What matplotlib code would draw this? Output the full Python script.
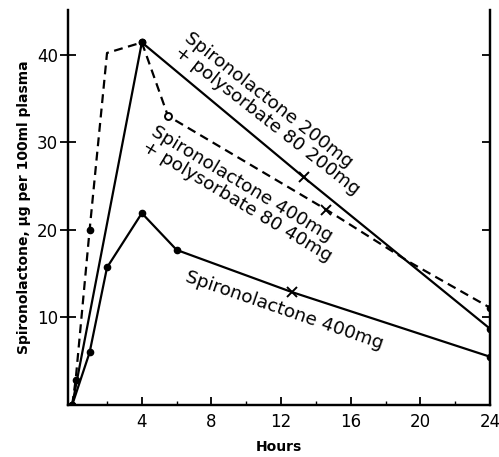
import matplotlib
matplotlib.use('Agg')
import matplotlib.pyplot as plt
from matplotlib.ticker import MultipleLocator

plt.rcParams.update({
    'font.family': 'DejaVu Sans',
    'font.size': 10,
    'axes.linewidth': 1.6,
})

# Spironolactone 200 mg + polysorbate 80 200 mg (solid, upper)
t_poly200 = [0, 4, 13.3, 19.3, 24]
c_poly200 = [0, 41.4, 26.0, 16.3, 8.7]

# Spironolactone 400 mg + polysorbate 80 40 mg (dashed)
t_poly40 = [0, 0.2, 1, 2, 4, 5.5, 14.6, 19.3, 24]
c_poly40 = [0, 2.9, 20.0, 40.2, 41.4, 33.0, 22.3, 16.4, 11.1]

# Spironolactone 400 mg alone (solid, lower)
t_plain = [0, 1, 2, 4, 6, 12.6, 24]
c_plain = [0, 6.0, 15.7, 21.9, 17.7, 12.9, 5.5]

fig = plt.figure(figsize=(4.99, 4.57), dpi=100)
ax = fig.add_axes([0.136, 0.114, 0.846, 0.864])

ax.plot(t_poly200, c_poly200, color='black', lw=1.6, zorder=3)
ax.plot(t_poly40, c_poly40, color='black', lw=1.6, ls=(0, (4, 2.5)), zorder=3)
ax.plot(t_plain, c_plain, color='black', lw=1.6, zorder=3)

# dot / cross markers per curve (indices into the arrays above)
for t, c, dots, crosses in [
    (t_poly200, c_poly200, [0, 1, 4], [2]),
    (t_poly40, c_poly40, [1, 2, 4, 8], [6]),
    (t_plain, c_plain, [0, 1, 2, 3, 4, 6], [5]),
]:
    for i in dots:
        ax.plot(t[i], c[i], 'o', color='black', ms=4.5, zorder=4)
    for i in crosses:
        ax.plot(t[i], c[i], 'x', color='black', ms=7, mew=1.4, zorder=4)

# open circle on the dashed curve at 5.5 h
ax.plot(t_poly40[5], c_poly40[5], 'o', mfc='white', mec='black', ms=5, mew=1.4, zorder=4)

ax.set_xlim(-0.25, 24)
ax.set_ylim(0, 45.1)

ax.spines['top'].set_visible(False)
ax.set_xticks([4, 8, 12, 16, 20, 24])
ax.xaxis.set_minor_locator(MultipleLocator(2))
ax.set_yticks([10, 20, 30, 40])
ax.tick_params(axis='x', direction='in', length=6, width=1.3, labelsize=12, pad=6)
ax.tick_params(axis='x', which='minor', direction='in', length=3, width=1.0)
ax.tick_params(axis='y', direction='inout', length=12, width=1.3, labelsize=12, pad=1)

# right-hand axis: inward ticks only
rax = ax.twinx()
rax.set_ylim(ax.get_ylim())
rax.set_yticks([10, 20, 30, 40])
rax.tick_params(axis='y', direction='in', length=6, width=1.3, labelright=False)
rax.spines['top'].set_visible(False)

ax.set_xlabel('Hours', fontsize=10, fontweight='bold', labelpad=6)
ax.set_ylabel('Spironolactone, \u03bcg per 100ml plasma', fontsize=10,
              fontweight='bold', labelpad=4)

ax.text(6.9, 42.9, 'Spironolactone 200mg\n+ polysorbate 80 200mg', rotation=-38,
        rotation_mode='anchor', ha='left', va='top', fontsize=13.2, linespacing=0.95)
ax.text(4.9, 32.2, 'Spironolactone 400mg\n+ polysorbate 80 40mg', rotation=-31,
        rotation_mode='anchor', ha='left', va='top', fontsize=13.2, linespacing=0.95)
ax.text(6.7, 15.6, 'Spironolactone 400mg', rotation=-19,
        rotation_mode='anchor', ha='left', va='top', fontsize=13.2)

fig.savefig('out.png', dpi=100)
plt.close()
